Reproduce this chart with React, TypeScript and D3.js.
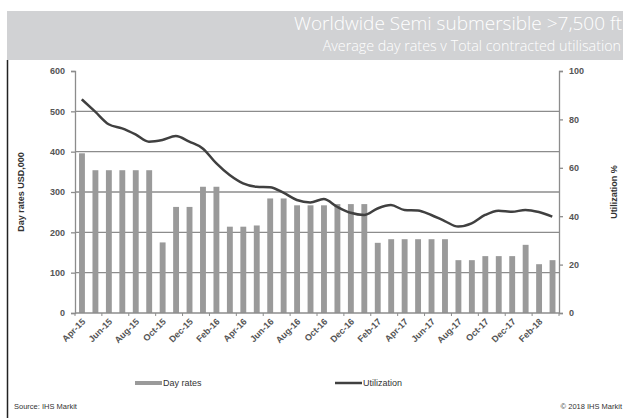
import * as d3 from "d3";
import { useRef, useEffect } from "react";

const months = [
  "Apr-15", "May-15", "Jun-15", "Jul-15", "Aug-15", "Sep-15", "Oct-15", "Nov-15", "Dec-15",
  "Jan-16", "Feb-16", "Mar-16", "Apr-16", "May-16", "Jun-16", "Jul-16", "Aug-16", "Sep-16",
  "Oct-16", "Nov-16", "Dec-16", "Jan-17", "Feb-17", "Mar-17", "Apr-17", "May-17", "Jun-17",
  "Jul-17", "Aug-17", "Sep-17", "Oct-17", "Nov-17", "Dec-17", "Jan-18", "Feb-18", "Mar-18",
];

// Day rates, USD 000 (left axis)
const dayRates = [
  396, 354, 354, 354, 354, 354, 175, 263, 263, 313, 313, 214, 214, 217, 284, 284, 267, 267,
  267, 270, 270, 270, 174, 183, 183, 183, 183, 183, 131, 131, 141, 141, 141, 169, 121, 131,
];

// Utilization % (right axis)
const utilization = [
  88.3, 83.2, 78, 76.3, 73.8, 70.8, 71.5, 73.1, 70.8, 68, 61.9, 57, 53.6, 52.2, 52, 49.7, 46.7,
  45.7, 47.1, 43.9, 41.4, 40.5, 43.2, 44.6, 42.6, 42.4, 40.5, 38, 35.7, 37, 40.5, 42.3, 41.8,
  42.6, 41.7, 39.8,
];

const leftTicks = [0, 100, 200, 300, 400, 500, 600];
const rightTicks = [0, 20, 40, 60, 80, 100];

const width = 623;
const height = 418;

export default function App() {
  const ref = useRef<SVGSVGElement | null>(null);

  useEffect(() => {
    document.body.style.margin = "0";
    const svg = d3.select(ref.current);
    svg.selectAll("*").remove();

    const left = 75;
    const right = 559;
    const top = 71;
    const bottom = 313;
    const axisFont = "Liberation Sans, Arial, sans-serif";

    const x = d3.scaleBand<string>().domain(months).range([left, right]).paddingInner(0.6).paddingOuter(0.3);
    const step = (right - left) / months.length;
    const yL = d3.scaleLinear().domain([0, 600]).range([bottom, top]);
    const yR = d3.scaleLinear().domain([0, 100]).range([bottom, top]);

    // title band
    svg.append("rect").attr("x", 7).attr("y", 11).attr("width", width - 7).attr("height", 49).attr("fill", "#d1d2d4");
    svg.append("text").attr("x", 622).attr("y", 30).attr("text-anchor", "end")
      .attr("font-family", "Open Sans, sans-serif").attr("font-weight", 300).attr("font-size", 19)
      .attr("fill", "#fff").text("Worldwide Semi submersible >7,500 ft");
    svg.append("text").attr("x", 621).attr("y", 51).attr("text-anchor", "end")
      .attr("font-family", "Open Sans, sans-serif").attr("font-weight", 300).attr("font-size", 14.3)
      .attr("fill", "#fff").text("Average day rates v Total contracted utilisation");

    // left border
    svg.append("line").attr("x1", 7.5).attr("x2", 7.5).attr("y1", 60).attr("y2", height)
      .attr("stroke", "#222").attr("stroke-width", 1.5);

    // gridlines
    svg.append("g").selectAll("line").data(leftTicks.filter((t) => t > 0 && t < 600)).join("line")
      .attr("x1", left).attr("x2", right).attr("y1", (d) => yL(d)).attr("y2", (d) => yL(d))
      .attr("stroke", "#8c8c8c").attr("stroke-width", 1.3);

    // bars
    svg.append("g").attr("fill", "#9a9a9a").selectAll("rect").data(dayRates).join("rect")
      .attr("x", (_, i) => x(months[i])!).attr("width", x.bandwidth() + 0.5)
      .attr("y", (d) => yL(d)).attr("height", (d) => bottom - yL(d));

    // left axis
    svg.append("g").attr("transform", `translate(${left},0)`)
      .call(d3.axisLeft(yL).tickValues(leftTicks).tickSize(4).tickPadding(6))
      .call((g) => g.selectAll("line, path").attr("stroke", "#8c8c8c").attr("stroke-width", 1.3))
      .call((g) => g.selectAll("text").attr("font-family", axisFont).attr("font-size", 9)
        .attr("font-weight", "bold").attr("fill", "#555"));

    // right axis
    svg.append("g").attr("transform", `translate(${right},0)`)
      .call(d3.axisRight(yR).tickValues(rightTicks).tickSize(4).tickPadding(6))
      .call((g) => g.selectAll("line, path").attr("stroke", "#8c8c8c").attr("stroke-width", 1.3))
      .call((g) => g.selectAll("text").attr("font-family", axisFont).attr("font-size", 9)
        .attr("font-weight", "bold").attr("fill", "#555"));

    // x axis
    svg.append("line").attr("x1", left).attr("x2", right).attr("y1", bottom).attr("y2", bottom)
      .attr("stroke", "#8c8c8c").attr("stroke-width", 1.3);
    svg.append("g").selectAll("line").data(d3.range(0, months.length + 1, 2)).join("line")
      .attr("x1", (k) => left + k * step).attr("x2", (k) => left + k * step)
      .attr("y1", bottom).attr("y2", bottom + 3).attr("stroke", "#8c8c8c");
    svg.append("g").selectAll("text").data(months.filter((_, i) => i % 2 === 0)).join("text")
      .attr("transform", (d) => `translate(${x(d)! + x.bandwidth() / 2 + 2},${bottom + 7}) rotate(-45)`)
      .attr("text-anchor", "end").attr("dy", "0.35em")
      .attr("font-family", axisFont).attr("font-size", 9).attr("font-weight", "bold").attr("fill", "#555")
      .text((d) => d);

    // utilization line
    const line = d3.line<number>()
      .x((_, i) => x(months[i])! + x.bandwidth() / 2)
      .y((d) => yR(d))
      .curve(d3.curveMonotoneX);
    svg.append("path").datum(utilization).attr("d", line).attr("fill", "none")
      .attr("stroke", "#404040").attr("stroke-width", 2.5).attr("stroke-linejoin", "round");

    // axis titles
    svg.append("text").attr("transform", `translate(24,${(top + bottom) / 2}) rotate(-90)`)
      .attr("text-anchor", "middle").attr("font-family", axisFont).attr("font-size", 9)
      .attr("font-weight", "bold").attr("fill", "#333").text("Day rates USD,000");
    svg.append("text").attr("transform", `translate(617,${(top + bottom) / 2}) rotate(-90)`)
      .attr("text-anchor", "middle").attr("font-family", axisFont).attr("font-size", 9)
      .attr("font-weight", "bold").attr("fill", "#333").text("Utilization %");

    // legend
    const legend = [
      { label: "Day rates", color: "#9a9a9a", x: 135, w: 4 },
      { label: "Utilization", color: "#404040", x: 335, w: 2.5 },
    ];
    const lg = svg.append("g").selectAll("g").data(legend).join("g")
      .attr("transform", (d) => `translate(${d.x},383)`);
    lg.append("line").attr("x1", 0).attr("x2", 27).attr("stroke", (d) => d.color).attr("stroke-width", (d) => d.w);
    lg.append("text").attr("x", 28).attr("dy", "0.35em").attr("font-family", axisFont)
      .attr("font-size", 9).attr("fill", "#333").text((d) => d.label);

    // source
    svg.append("text").attr("x", 14).attr("y", 409).attr("font-family", axisFont).attr("font-size", 7.5)
      .attr("fill", "#333").text("Source: IHS Markit");
    svg.append("text").attr("x", 622).attr("y", 409).attr("text-anchor", "end").attr("font-family", axisFont)
      .attr("font-size", 7.5).attr("fill", "#333").text("© 2018 IHS Markit");

    return () => {
      svg.selectAll("*").remove();
    };
  }, []);

  return <svg width={width} height={height} ref={ref} style={{ display: "block" }} />;
}
